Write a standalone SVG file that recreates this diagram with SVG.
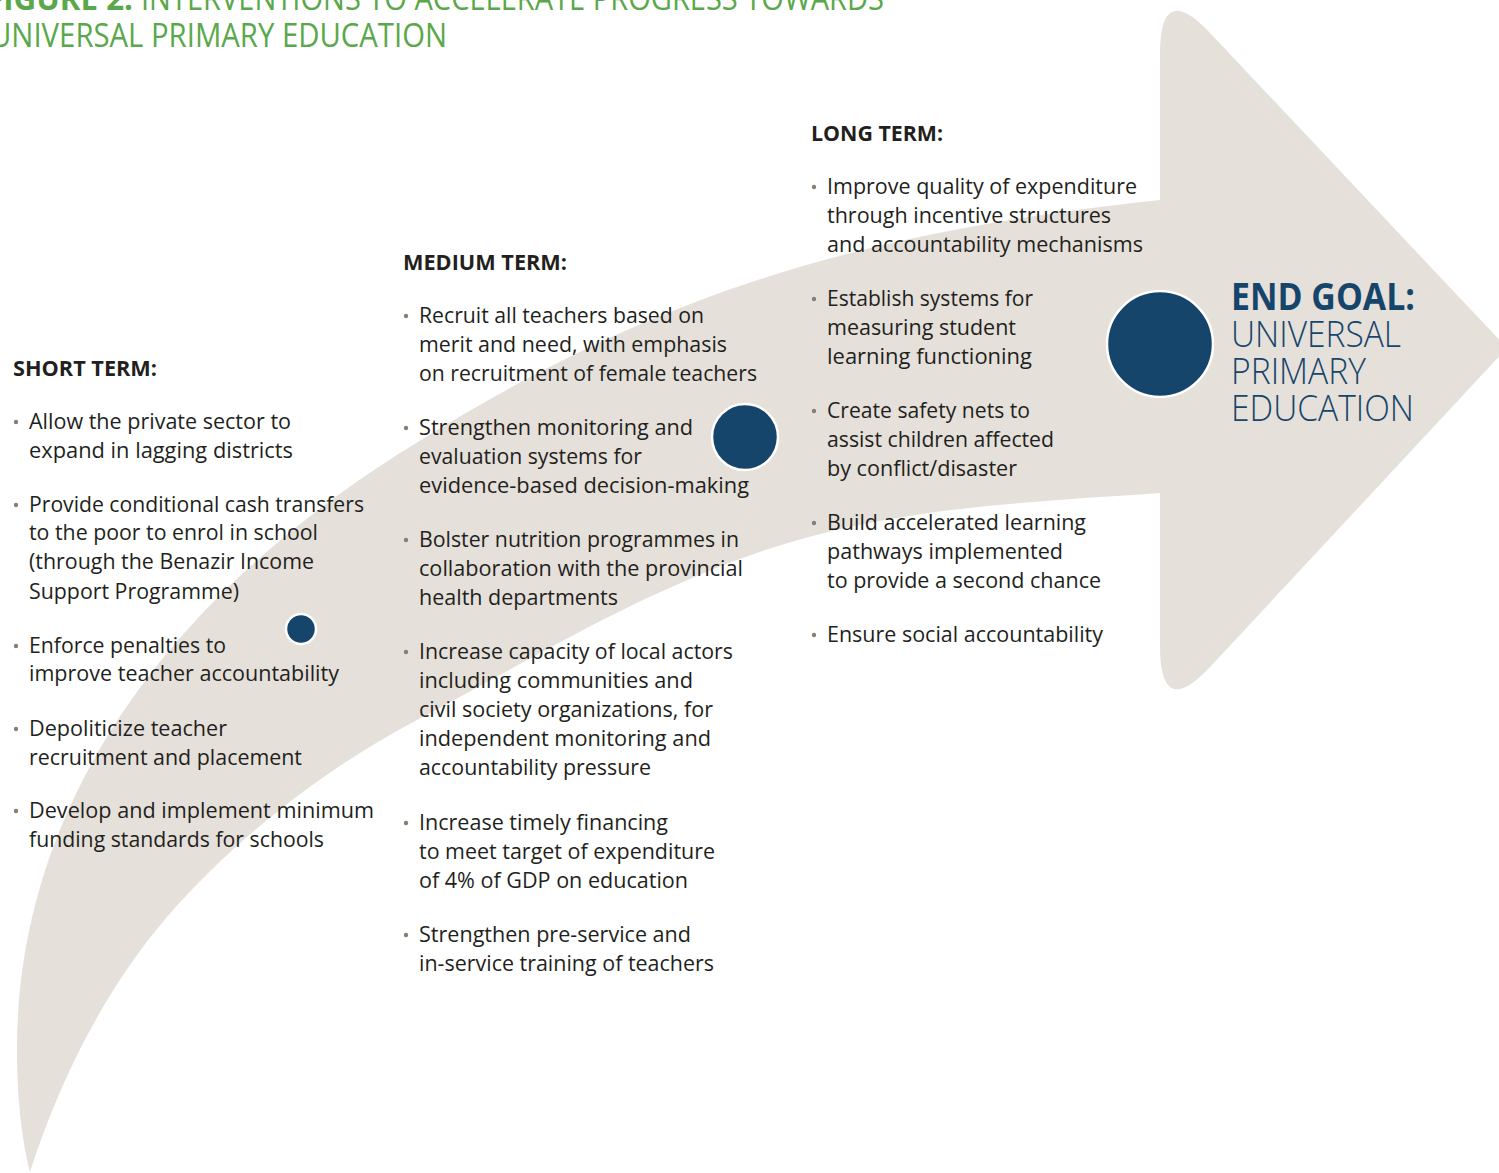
<svg xmlns="http://www.w3.org/2000/svg" width="1499" height="1173" viewBox="0 0 1499 1173">
<style>
.t{font-family:"Open Sans","Liberation Sans",sans-serif;font-size:22px;fill:#231f20}
.h{font-weight:700;font-size:21px}
.bul{fill:#8b7d6f}
.dot{fill:#16456b;stroke:#ffffff;stroke-width:2.5}
.ttl{font-family:"Open Sans","Liberation Sans",sans-serif;font-size:32px;fill:#5aa84b}
.goal{font-family:"Open Sans","Liberation Sans",sans-serif;font-size:37px;fill:#16456b}
</style>
<rect width="1499" height="1173" fill="#ffffff"/>
<g id="title">
<text class="ttl" y="10"><tspan x="-14" font-weight="700" textLength="147" lengthAdjust="spacingAndGlyphs">FIGURE 2.</tspan><tspan x="141" textLength="743" lengthAdjust="spacingAndGlyphs">INTERVENTIONS TO ACCELERATE PROGRESS TOWARDS</tspan></text>
<text class="ttl" x="-10" y="47" textLength="457" lengthAdjust="spacingAndGlyphs">UNIVERSAL PRIMARY EDUCATION</text>
</g>
<g id="connectors">
<path id="progress-arrow" fill="#e5e0da" d="M 30,1172 C 22,1140 17,1100 17,1050 C 17,800 172,598 400,453 C 650,294 860,232 1160,200 L 1160,54 Q 1160,-21 1211,34 L 1507,348 L 1211,666 Q 1160,721 1160,646 L 1160,493 C 1020,503 877,507 737,560 C 617,605.6 537,656.4 417,720 C 324,769 236,838 167,917 C 105,989 59,1081 30,1172 Z"/>
</g>
<g id="short-term">
<text class="t h" x="13" y="376" textLength="144" lengthAdjust="spacingAndGlyphs">SHORT TERM:</text>
<circle class="bul" cx="16" cy="422" r="2.2"/>
<text class="t" x="29" y="429" textLength="262" lengthAdjust="spacingAndGlyphs">Allow the private sector to</text>
<text class="t" x="29" y="458" textLength="264" lengthAdjust="spacingAndGlyphs">expand in lagging districts</text>
<circle class="bul" cx="16" cy="505" r="2.2"/>
<text class="t" x="29" y="512" textLength="335" lengthAdjust="spacingAndGlyphs">Provide conditional cash transfers</text>
<text class="t" x="29" y="540" textLength="289" lengthAdjust="spacingAndGlyphs">to the poor to enrol in school</text>
<text class="t" x="29" y="569" textLength="285" lengthAdjust="spacingAndGlyphs">(through the Benazir Income</text>
<text class="t" x="29" y="599" textLength="210" lengthAdjust="spacingAndGlyphs">Support Programme)</text>
<circle class="bul" cx="16" cy="646" r="2.2"/>
<text class="t" x="29" y="653" textLength="197" lengthAdjust="spacingAndGlyphs">Enforce penalties to</text>
<text class="t" x="29" y="681" textLength="310" lengthAdjust="spacingAndGlyphs">improve teacher accountability</text>
<circle class="bul" cx="16" cy="729" r="2.2"/>
<text class="t" x="29" y="736" textLength="198" lengthAdjust="spacingAndGlyphs">Depoliticize teacher</text>
<text class="t" x="29" y="765" textLength="273" lengthAdjust="spacingAndGlyphs">recruitment and placement</text>
<circle class="bul" cx="16" cy="811" r="2.2"/>
<text class="t" x="29" y="818" textLength="345" lengthAdjust="spacingAndGlyphs">Develop and implement minimum</text>
<text class="t" x="29" y="847" textLength="295" lengthAdjust="spacingAndGlyphs">funding standards for schools</text>
<circle class="dot" cx="301" cy="629" r="15"/>
</g>
<g id="medium-term">
<text class="t h" x="403" y="270" textLength="164" lengthAdjust="spacingAndGlyphs">MEDIUM TERM:</text>
<circle class="bul" cx="406" cy="316" r="2.2"/>
<text class="t" x="419" y="323" textLength="285" lengthAdjust="spacingAndGlyphs">Recruit all teachers based on</text>
<text class="t" x="419" y="352" textLength="308" lengthAdjust="spacingAndGlyphs">merit and need, with emphasis</text>
<text class="t" x="419" y="381" textLength="338" lengthAdjust="spacingAndGlyphs">on recruitment of female teachers</text>
<circle class="bul" cx="406" cy="428" r="2.2"/>
<text class="t" x="419" y="435" textLength="274" lengthAdjust="spacingAndGlyphs">Strengthen monitoring and</text>
<text class="t" x="419" y="464" textLength="223" lengthAdjust="spacingAndGlyphs">evaluation systems for</text>
<text class="t" x="419" y="493" textLength="330" lengthAdjust="spacingAndGlyphs">evidence-based decision-making</text>
<circle class="bul" cx="406" cy="540" r="2.2"/>
<text class="t" x="419" y="547" textLength="320" lengthAdjust="spacingAndGlyphs">Bolster nutrition programmes in</text>
<text class="t" x="419" y="576" textLength="324" lengthAdjust="spacingAndGlyphs">collaboration with the provincial</text>
<text class="t" x="419" y="605" textLength="199" lengthAdjust="spacingAndGlyphs">health departments</text>
<circle class="bul" cx="406" cy="652" r="2.2"/>
<text class="t" x="419" y="659" textLength="314" lengthAdjust="spacingAndGlyphs">Increase capacity of local actors</text>
<text class="t" x="419" y="688" textLength="274" lengthAdjust="spacingAndGlyphs">including communities and</text>
<text class="t" x="419" y="717" textLength="294" lengthAdjust="spacingAndGlyphs">civil society organizations, for</text>
<text class="t" x="419" y="746" textLength="292" lengthAdjust="spacingAndGlyphs">independent monitoring and</text>
<text class="t" x="419" y="775" textLength="232" lengthAdjust="spacingAndGlyphs">accountability pressure</text>
<circle class="bul" cx="406" cy="823" r="2.2"/>
<text class="t" x="419" y="830" textLength="249" lengthAdjust="spacingAndGlyphs">Increase timely financing</text>
<text class="t" x="419" y="859" textLength="296" lengthAdjust="spacingAndGlyphs">to meet target of expenditure</text>
<text class="t" x="419" y="888" textLength="269" lengthAdjust="spacingAndGlyphs">of 4% of GDP on education</text>
<circle class="bul" cx="406" cy="935" r="2.2"/>
<text class="t" x="419" y="942" textLength="272" lengthAdjust="spacingAndGlyphs">Strengthen pre-service and</text>
<text class="t" x="419" y="971" textLength="295" lengthAdjust="spacingAndGlyphs">in-service training of teachers</text>
<circle class="dot" cx="745" cy="437" r="33"/>
</g>
<g id="long-term">
<text class="t h" x="811" y="141" textLength="132" lengthAdjust="spacingAndGlyphs">LONG TERM:</text>
<circle class="bul" cx="814" cy="187" r="2.2"/>
<text class="t" x="827" y="194" textLength="310" lengthAdjust="spacingAndGlyphs">Improve quality of expenditure</text>
<text class="t" x="827" y="223" textLength="284" lengthAdjust="spacingAndGlyphs">through incentive structures</text>
<text class="t" x="827" y="252" textLength="316" lengthAdjust="spacingAndGlyphs">and accountability mechanisms</text>
<circle class="bul" cx="814" cy="299" r="2.2"/>
<text class="t" x="827" y="306" textLength="206" lengthAdjust="spacingAndGlyphs">Establish systems for</text>
<text class="t" x="827" y="335" textLength="189" lengthAdjust="spacingAndGlyphs">measuring student</text>
<text class="t" x="827" y="364" textLength="205" lengthAdjust="spacingAndGlyphs">learning functioning</text>
<circle class="bul" cx="814" cy="411" r="2.2"/>
<text class="t" x="827" y="418" textLength="203" lengthAdjust="spacingAndGlyphs">Create safety nets to</text>
<text class="t" x="827" y="447" textLength="227" lengthAdjust="spacingAndGlyphs">assist children affected</text>
<text class="t" x="827" y="476" textLength="190" lengthAdjust="spacingAndGlyphs">by conflict/disaster</text>
<circle class="bul" cx="814" cy="523" r="2.2"/>
<text class="t" x="827" y="530" textLength="259" lengthAdjust="spacingAndGlyphs">Build accelerated learning</text>
<text class="t" x="827" y="559" textLength="236" lengthAdjust="spacingAndGlyphs">pathways implemented</text>
<text class="t" x="827" y="588" textLength="274" lengthAdjust="spacingAndGlyphs">to provide a second chance</text>
<circle class="bul" cx="814" cy="635" r="2.2"/>
<text class="t" x="827" y="642" textLength="276" lengthAdjust="spacingAndGlyphs">Ensure social accountability</text>
</g>
<g id="end-goal">
<circle class="dot" cx="1160" cy="344" r="53"/>
<text class="goal" x="1231" y="310" font-weight="700" textLength="184" lengthAdjust="spacingAndGlyphs">END GOAL:</text>
<text class="goal" x="1231" y="347" font-weight="300" textLength="170" lengthAdjust="spacingAndGlyphs">UNIVERSAL</text>
<text class="goal" x="1231" y="384" font-weight="300" textLength="135" lengthAdjust="spacingAndGlyphs">PRIMARY</text>
<text class="goal" x="1231" y="421" font-weight="300" textLength="183" lengthAdjust="spacingAndGlyphs">EDUCATION</text>
</g>
</svg>
